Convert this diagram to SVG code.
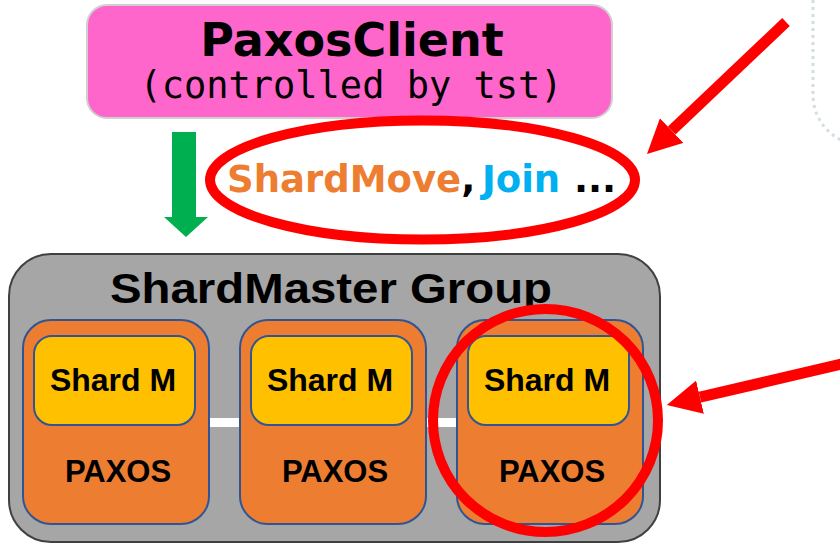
<svg xmlns="http://www.w3.org/2000/svg" width="840" height="544" viewBox="0 0 840 544">
  <style>
    .bold { font-family: "DejaVu Sans", "Liberation Sans", sans-serif; font-weight: bold; }
    .lib { font-family: "Liberation Sans", Arial, sans-serif; font-weight: bold; }
    .mono { font-family: "DejaVu Sans Mono", "Liberation Mono", monospace; }
    .server { fill: #ED7D31; stroke: #2F5597; stroke-width: 2; }
    .shard { fill: #FFC000; stroke: #2F5597; stroke-width: 2; }
    .link { fill: #FFFFFF; }
    .callout { fill: none; stroke: #FF0000; stroke-width: 10; }
    .pointer { fill: none; stroke: #FF0000; stroke-width: 11; }
  </style>
  <defs>
    <marker id="redHead" viewBox="0 0 10 10" refX="0" refY="5" markerWidth="3.1" markerHeight="3.1" orient="auto" markerUnits="strokeWidth">
      <path d="M0,0 L10,5 L0,10 z" fill="#FF0000"/>
    </marker>
  </defs>

  <rect width="840" height="544" fill="#FFFFFF"/>

  <!-- faint dotted outline at the top right -->
  <path d="M813,0 V95 A50,50 0 0 0 863,145" fill="none" stroke="#D3DDE2" stroke-width="3" stroke-dasharray="3,4"/>

  <!-- client -->
  <g id="paxos-client">
    <rect x="87" y="5" width="525" height="113" rx="20" fill="#FF66CC" stroke="#D0D0D0" stroke-width="2"/>
    <text x="352" y="56" text-anchor="middle" class="bold" font-size="46" fill="#000">PaxosClient</text>
    <text x="351" y="98" text-anchor="middle" class="mono" font-size="37" fill="#000">(controlled by tst)</text>
  </g>

  <!-- request label -->
  <g id="requests">
    <text y="192" class="bold" font-size="37"><tspan x="227" fill="#ED7D31">ShardMove</tspan><tspan fill="#000">,</tspan><tspan x="482" fill="#00B0F0">Join</tspan><tspan x="574" fill="#000">...</tspan></text>
  </g>

  <!-- shardmaster group -->
  <g id="shardmaster-group">
    <rect x="9" y="254" width="651" height="288" rx="42" fill="#A6A6A6" stroke="#404040" stroke-width="2"/>
    <text x="331" y="303" text-anchor="middle" class="lib" font-size="43" textLength="442" lengthAdjust="spacingAndGlyphs" fill="#000">ShardMaster Group</text>
  </g>

  <!-- links between replicas, and the request arrow -->
  <g id="connectors">
    <rect class="link" x="209" y="418" width="32" height="9"/>
    <rect class="link" x="426" y="418" width="32" height="9"/>
    <polygon points="172,132 196,132 196,217 208,217 186,237 164,217 172,217" fill="#00B050"/>
  </g>

  <g id="replica-1">
    <rect class="server" x="23" y="320" width="186" height="204" rx="28"/>
    <rect class="shard" x="34" y="336" width="161" height="89" rx="18"/>
    <text x="113" y="391" text-anchor="middle" class="lib" font-size="32">Shard M</text>
    <text x="118" y="482" text-anchor="middle" class="lib" font-size="31">PAXOS</text>
  </g>
  <g id="replica-2">
    <rect class="server" x="240" y="320" width="186" height="204" rx="28"/>
    <rect class="shard" x="251" y="336" width="161" height="89" rx="18"/>
    <text x="330" y="391" text-anchor="middle" class="lib" font-size="32">Shard M</text>
    <text x="335" y="482" text-anchor="middle" class="lib" font-size="31">PAXOS</text>
  </g>
  <g id="replica-3">
    <rect class="server" x="457" y="320" width="186" height="204" rx="28"/>
    <rect class="shard" x="468" y="336" width="161" height="89" rx="18"/>
    <text x="547" y="391" text-anchor="middle" class="lib" font-size="32">Shard M</text>
    <text x="552" y="482" text-anchor="middle" class="lib" font-size="31">PAXOS</text>
  </g>

  <!-- highlights -->
  <g id="highlights">
    <ellipse class="callout" cx="422.5" cy="180" rx="212.5" ry="59.5"/>
    <ellipse class="callout" cx="545.5" cy="420.5" rx="112.5" ry="111.5"/>
    <line class="pointer" x1="786" y1="22" x2="671.7" y2="130.6" marker-end="url(#redHead)"/>
    <line class="pointer" x1="842" y1="364" x2="700" y2="397.2" marker-end="url(#redHead)"/>
  </g>
</svg>
